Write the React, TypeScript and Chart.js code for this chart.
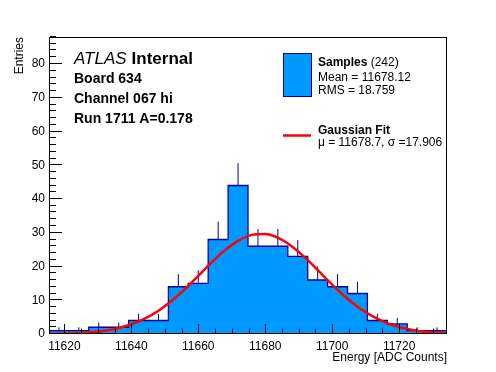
import React, { useEffect, useRef } from "react";
import { Chart, registerables } from "chart.js";

Chart.register(...registerables);

// ---- data ----
const BIN_EDGES = [
  11615.4, 11621.35, 11627.29, 11633.24, 11639.18, 11645.13, 11651.07,
  11657.02, 11662.96, 11668.91, 11674.85, 11680.8, 11686.74, 11692.69,
  11698.63, 11704.58, 11710.52, 11716.47, 11722.41, 11728.36, 11734.3,
];
const COUNTS = [1, 1, 2, 2, 4, 4, 14, 15, 28, 44, 26, 26, 23, 16, 14, 12, 4, 3, 1, 1];
const ERRORS = [1.0, 1.0, 1.41, 1.41, 2.0, 2.0, 3.74, 3.87, 5.29, 6.63, 5.1, 5.1, 4.8, 4.0, 3.74, 3.46, 2.0, 1.73, 1.0, 1.0];

const FIT_X = [
  11615.4, 11620, 11624, 11628, 11632, 11636, 11640, 11644, 11648, 11652,
  11656, 11660, 11664, 11668, 11672, 11676, 11680, 11684, 11688, 11692,
  11696, 11700, 11704, 11708, 11712, 11716, 11720, 11724, 11728, 11732, 11734.3,
];
const FIT_Y = [
  0.057, 0.138, 0.28, 0.539, 0.99, 1.73, 2.874, 4.542, 6.83, 9.771,
  13.297, 17.215, 21.204, 24.844, 27.692, 29.364, 29.622, 28.427, 25.952, 22.54,
  18.623, 14.638, 10.946, 7.786, 5.269, 3.392, 2.077, 1.21, 0.671, 0.354, 0.24,
];

const X_MIN = 11615.4;
const X_MAX = 11734.3;
const Y_MIN = 0;
const Y_MAX = 88;
const X_STEP = 20;
const X_MINOR_STEP = 5;
const Y_STEP = 10;
const Y_MINOR_STEP = 2;

const ATLAS_WORD = "ATLAS";
const ATLAS_TAG = "Internal";
const INFO_LINES = ["Board 634", "Channel 067 hi", "Run 1711 A=0.178"];
const LEGEND_HIST_TITLE = "Samples";
const LEGEND_HIST_COUNT = "(242)";
const LEGEND_HIST_LINES = ["Mean = 11678.12", "RMS = 18.759"];
const LEGEND_FIT_TITLE = "Gaussian Fit";
const LEGEND_FIT_LINE = "\u03bc = 11678.7, \u03c3 =17.906";
const X_TITLE = "Energy [ADC Counts]";
const Y_TITLE = "Entries";

const FILL = "#0099ff";
const EDGE = "#000099";
const FIT_COLOR = "#ff0000";
const FONT = '"Liberation Sans", Arial, Helvetica, sans-serif';

const framePlugin = {
  id: "rootFrame",
  beforeDraw(chart: any) {
    const { ctx } = chart;
    ctx.save();
    ctx.fillStyle = "#ffffff";
    ctx.fillRect(0, 0, chart.width, chart.height);
    ctx.restore();
  },
  afterDraw(chart: any) {
    const { ctx, chartArea: a } = chart;
    const xs = chart.scales.x;
    const ys = chart.scales.y;
    ctx.save();
    ctx.strokeStyle = "#000";
    ctx.lineWidth = 1;
    // frame
    ctx.strokeRect(a.left + 0.5, a.top + 0.5, a.right - a.left - 1, a.bottom - a.top - 1);
    // x ticks
    ctx.beginPath();
    const xStart = Math.ceil(xs.min / X_MINOR_STEP) * X_MINOR_STEP;
    for (let v = xStart; v <= xs.max; v += X_MINOR_STEP) {
      const major = v % X_STEP === 0;
      const px = Math.round(xs.getPixelForValue(v)) + 0.5;
      const len = major ? 9 : 4.5;
      ctx.moveTo(px, a.bottom - 1);
      ctx.lineTo(px, a.bottom - 1 - len);
    }
    // y ticks
    for (let v = Math.ceil(ys.min / Y_MINOR_STEP) * Y_MINOR_STEP; v <= ys.max; v += Y_MINOR_STEP) {
      const major = v % Y_STEP === 0;
      const py = Math.round(ys.getPixelForValue(v)) - 0.5;
      const len = major ? 12 : 6;
      ctx.moveTo(a.left + 1, py);
      ctx.lineTo(a.left + 1 + len, py);
    }
    ctx.stroke();

    // ATLAS label block
    ctx.fillStyle = "#000";
    ctx.textBaseline = "alphabetic";
    ctx.textAlign = "left";
    ctx.font = `italic 17px ${FONT}`;
    ctx.fillText(ATLAS_WORD, 74, 64);
    const w = ctx.measureText(ATLAS_WORD).width;
    ctx.font = `bold 17px ${FONT}`;
    ctx.fillText(ATLAS_TAG, 74 + w + 5, 64);
    ctx.font = `bold 14px ${FONT}`;
    INFO_LINES.forEach((t, i) => ctx.fillText(t, 74, 83 + i * 20));

    // legend
    ctx.fillStyle = FILL;
    ctx.fillRect(283.5, 53.5, 28, 43);
    ctx.strokeStyle = EDGE;
    ctx.lineWidth = 1;
    ctx.strokeRect(283.5, 53.5, 28, 43);
    ctx.fillStyle = "#000";
    ctx.font = `bold 12px ${FONT}`;
    ctx.fillText(LEGEND_HIST_TITLE, 318, 66);
    const sw = ctx.measureText(LEGEND_HIST_TITLE + " ").width;
    ctx.font = `12px ${FONT}`;
    ctx.fillText(LEGEND_HIST_COUNT, 318 + sw, 66);
    LEGEND_HIST_LINES.forEach((t, i) => ctx.fillText(t, 318, 80.5 + i * 13.5));

    ctx.strokeStyle = FIT_COLOR;
    ctx.lineWidth = 2.5;
    ctx.beginPath();
    ctx.moveTo(283, 135.5);
    ctx.lineTo(311, 135.5);
    ctx.stroke();
    ctx.font = `bold 12px ${FONT}`;
    ctx.fillText(LEGEND_FIT_TITLE, 318, 133.5);
    ctx.font = `12px ${FONT}`;
    ctx.fillText(LEGEND_FIT_LINE, 318, 146);
    ctx.restore();
  },
};

export default function App() {
  const ref = useRef<HTMLCanvasElement | null>(null);

  useEffect(() => {
    if (!ref.current) return;
    const histPts: { x: number; y: number }[] = [{ x: BIN_EDGES[0], y: 0 }];
    COUNTS.forEach((c, i) => histPts.push({ x: BIN_EDGES[i], y: c }));
    histPts.push({ x: BIN_EDGES[BIN_EDGES.length - 1], y: 0 });

    const errPts: ({ x: number; y: number | null })[] = [];
    COUNTS.forEach((c, i) => {
      const cx = (BIN_EDGES[i] + BIN_EDGES[i + 1]) / 2;
      errPts.push({ x: cx, y: c });
      errPts.push({ x: cx, y: c + ERRORS[i] });
      errPts.push({ x: cx, y: null });
    });

    const fitPts = FIT_X.map((x, i) => ({ x, y: FIT_Y[i] }));

    const chart = new Chart(ref.current, {
      type: "line",
      data: {
        datasets: [
          {
            label: "fit",
            data: fitPts,
            borderColor: FIT_COLOR,
            borderWidth: 2.5,
            pointRadius: 0,
            fill: false,
            cubicInterpolationMode: "monotone",
            order: 1,
          },
          {
            label: "errors",
            data: errPts as any,
            borderColor: EDGE,
            borderWidth: 1,
            pointRadius: 0,
            fill: false,
            spanGaps: false,
            order: 2,
          },
          {
            label: "hist",
            data: histPts,
            borderColor: EDGE,
            backgroundColor: FILL,
            borderWidth: 1.3,
            pointRadius: 0,
            stepped: "before",
            fill: "origin",
            order: 3,
          },
        ],
      },
      options: {
        animation: false,
        responsive: false,
        devicePixelRatio: 1,
        parsing: false as any,
        normalized: true,
        layout: { padding: { left: 0, right: 49, top: 37, bottom: 0 } },
        plugins: {
          legend: { display: false },
          tooltip: { enabled: false },
        },
        scales: {
          x: {
            type: "linear",
            min: X_MIN,
            max: X_MAX,
            grid: { display: false, drawTicks: false },
            border: { display: false },
            ticks: {
              stepSize: X_STEP,
              includeBounds: false,
              autoSkip: false,
              maxRotation: 0,
              color: "#000",
              padding: 5,
              font: { family: FONT, size: 12 },
              callback: (v: any) => String(v),
            },
            title: {
              display: true,
              text: X_TITLE,
              align: "end",
              color: "#000",
              font: { family: FONT, size: 12 },
              padding: { top: 0, bottom: 7 },
            },
            afterFit: (s: any) => {
              s.height = 38;
            },
          },
          y: {
            type: "linear",
            min: Y_MIN,
            max: Y_MAX,
            grid: { display: false, drawTicks: false },
            border: { display: false },
            ticks: {
              stepSize: Y_STEP,
              includeBounds: false,
              color: "#000",
              padding: 4,
              font: { family: FONT, size: 12 },
              callback: (v: any) => String(v),
            },
            title: {
              display: true,
              text: Y_TITLE,
              align: "end",
              color: "#000",
              font: { family: FONT, size: 12 },
              padding: { top: 12, bottom: 12 },
            },
            afterFit: (s: any) => {
              s.width = 49;
            },
          },
        },
      },
      plugins: [framePlugin],
    });
    return () => chart.destroy();
  }, []);

  return (
    <div style={{ position: "fixed", left: 0, top: 0, width: 496, height: 372, background: "#fff" }}>
      <canvas ref={ref} width={496} height={372} style={{ display: "block", width: 496, height: 372 }} />
    </div>
  );
}
